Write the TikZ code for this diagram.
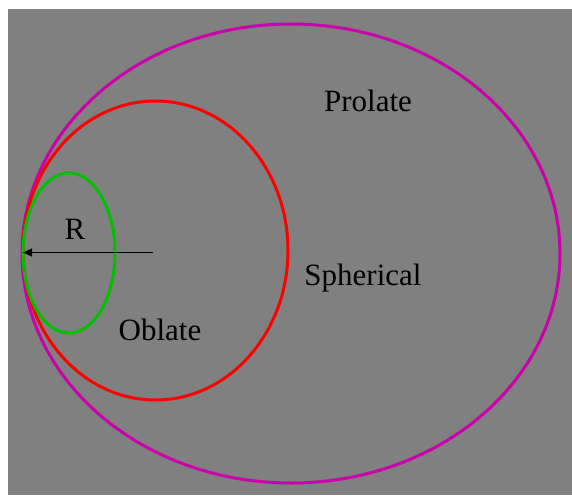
\documentclass[tikz,border=0pt]{standalone}
\usepackage{fontspec}
\setmainfont{Liberation Serif}
\usepackage{xcolor}
\usetikzlibrary{positioning, calc, arrows.meta}

\definecolor{bggray}{RGB}{128,128,128}
\definecolor{prolatecol}{RGB}{204,0,170}
\definecolor{sphercol}{RGB}{255,0,0}
\definecolor{oblatecol}{RGB}{0,192,0}

\tikzset{
    shapeline/.style={line width=3pt},
    shapelabel/.style={anchor=base, inner sep=0pt, font=\fontsize{31}{36}\selectfont}
}

\begin{document}
\begin{tikzpicture}[x=1pt, y=-1pt]

    % --- FRAME ---
    \useasboundingbox (0,0) rectangle (572,495);
    \fill[bggray] (8,9) rectangle (572,495);

    % --- ELLIPSES ---
    % Prolate (outer)
    \draw[shapeline, prolatecol] (291,253.5) ellipse [x radius=269, y radius=229.5];

    % Spherical (middle)
    \draw[shapeline, sphercol] (155.5,250.5) ellipse [x radius=132.5, y radius=149.5];

    % Oblate (inner)
    \draw[shapeline, oblatecol] (69,253) ellipse [x radius=46, y radius=80];

    % --- RADIUS ARROW ---
    \coordinate (centre) at (153,252.5);
    \coordinate (rim) at (23,252.5);
    \draw[line width=1pt, -{Triangle[length=9pt,width=8pt]}] (centre) -- (rim);

    % --- LABELS ---
    \node[shapelabel] (radius)    at (75,239)  {R};
    \node[shapelabel] (prolate)   at (368,111) {Prolate};
    \node[shapelabel] (spherical) at (363,285) {Spherical};
    \node[shapelabel] (oblate)    at (160,340) {Oblate};

\end{tikzpicture}
\end{document}
